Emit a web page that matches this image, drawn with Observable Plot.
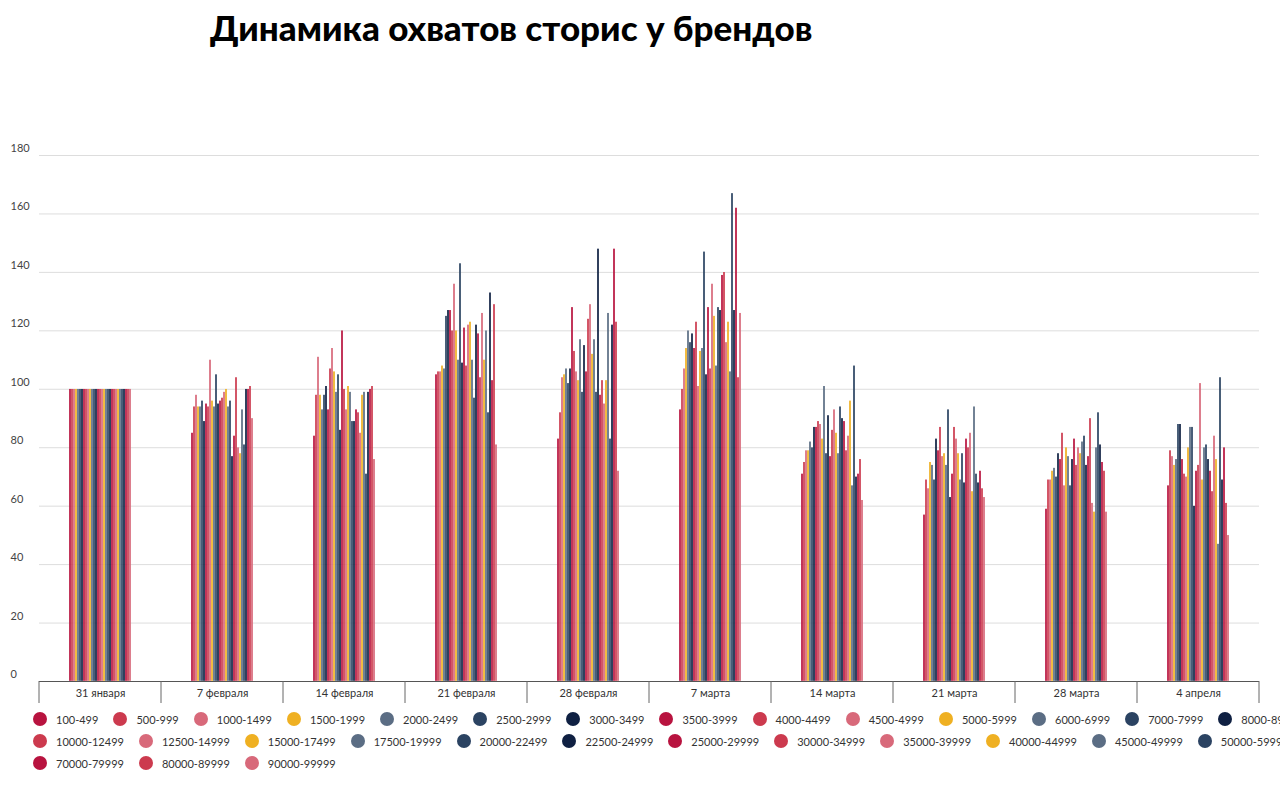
<!DOCTYPE html>
<html><head><meta charset="utf-8">
<script src="https://cdn.jsdelivr.net/npm/d3@7"></script>
<script src="https://cdn.jsdelivr.net/npm/@observablehq/plot@0.6"></script>
<style>
body{margin:0;background:#fff;font-family:Lato,"Open Sans",sans-serif;}
#title{height:55px;font:900 35px Lato,"Noto Sans",sans-serif;color:#000;padding-left:210px;line-height:55px;box-sizing:border-box;}
#legend{padding-left:33px;font-size:11px;color:#333;margin-top:-2px}
.row{display:flex;gap:15px;height:22px;align-items:center;white-space:nowrap}
.it{display:flex;align-items:center;gap:9px;white-space:nowrap}
.dot{width:14px;height:14px;border-radius:50%;flex:none}
</style></head><body>
<div id="title">Динамика охватов сторис у брендов</div>
<div id="chart"></div>
<div id="legend"></div>
<script>
const dates=["31 января","7 февраля","14 февраля","21 февраля","28 февраля","7 марта","14 марта","21 марта","28 марта","4 апреля"];
const series=["100-499","500-999","1000-1499","1500-1999","2000-2499","2500-2999","3000-3499","3500-3999","4000-4499","4500-4999","5000-5999","6000-6999","7000-7999","8000-8999","9000-9999","10000-12499","12500-14999","15000-17499","17500-19999","20000-22499","22500-24999","25000-29999","30000-34999","35000-39999","40000-44999","45000-49999","50000-59999","60000-69999","70000-79999","80000-89999","90000-99999"];
const palette=["#b8133f","#cc3a4e","#d8697a","#efb022","#5b6d84","#2b4362","#0f2042"];
const v31jan=Array(31).fill(100);
const v7feb=[85,94,98,94,94,96,89,95,94,110,96,94,105,95,96,97,99,100,94,96,77,84,104,80,78,93,81,100,100,101,90];
const v14feb=[84,98,111,98,93,98,101,93,107,114,106,99,105,86,120,100,93,101,99,89,89,93,92,85,98,99,71,99,100,101,76];
const v21feb=[105,106,106,108,107,125,127,127,120,136,120,110,143,109,121,108,122,123,110,97,122,119,104,126,110,120,92,133,103,129,81];
const v28feb=[83,92,104,105,107,102,107,128,113,106,103,117,99,115,106,124,129,112,117,99,148,98,103,95,103,126,83,122,148,123,72];
const v7mar=[93,100,107,114,120,116,119,114,123,101,113,114,147,105,128,107,136,125,108,128,127,139,140,116,123,106,167,127,162,104,126];
const v14mar=[71,75,79,79,82,80,87,87,89,88,83,101,78,91,77,86,93,85,78,94,90,89,79,84,96,67,108,70,71,76,62];
const v21mar=[57,69,66,75,74,69,83,79,87,77,78,74,93,63,71,87,83,78,69,78,68,83,80,85,65,94,71,68,72,66,63];
const v28mar=[59,69,69,72,73,70,78,76,85,67,80,77,67,76,83,74,80,78,82,84,74,77,90,61,58,80,92,81,75,72,58];
const v4apr=[67,79,77,74,76,88,88,76,71,70,80,87,87,60,72,74,102,69,80,81,76,72,65,84,76,47,104,69,80,61,50];
const values=[v31jan,v7feb,v14feb,v21feb,v28feb,v7mar,v14mar,v21mar,v28mar,v4apr];
const data=[];
dates.forEach((d,i)=>series.forEach((s,j)=>data.push({date:d,series:s,value:values[i][j]})));
const colors=series.map((s,i)=>palette[i%7]);
const chart=Plot.plot({
  width:1280,height:655,marginLeft:35,marginRight:18,marginTop:100,marginBottom:29,
  style:{fontFamily:"Lato, sans-serif",fontSize:"11px",color:"#333"},
  fx:{domain:dates,padding:0,label:null,axis:null},
  x:{domain:series,padding:0,paddingOuter:8.5,axis:null},
  y:{domain:[0,180],label:null},
  color:{domain:series,range:colors},
  marks:[
    Plot.gridY(d3.range(20,181,20),{stroke:"#ddd",strokeOpacity:1}),
    Plot.axisY(d3.range(0,181,20),{tickSize:0,textAnchor:"start",dx:-20,dy:-7,fill:"#444"}),
    Plot.axisFx({anchor:"bottom",tickSize:0,tickPadding:8,fontSize:11,fill:"#333",label:null}),
    Plot.barY(data,{fx:"date",x:"series",y:"value",fill:"series",inset:0.15}),
    Plot.ruleY([0],{stroke:"#555"})
  ]
});
document.getElementById("chart").append(chart);
const fx=chart.scale("fx");
const svg=d3.select(chart);
const y0=655-29;
const bounds=dates.map(d=>fx.apply(d)).concat([fx.apply(dates[dates.length-1])+fx.bandwidth]);
svg.append("g").selectAll("line").data(bounds).join("line")
  .attr("x1",d=>d).attr("x2",d=>d).attr("y1",y0).attr("y2",y0+22).attr("stroke","#666");
const leg=document.getElementById("legend");
[[0,15],[15,28],[28,31]].forEach(([a,b])=>{
  const row=document.createElement("div");row.className="row";
  for(let i=a;i<b;i++){row.innerHTML+=`<div class="it"><div class="dot" style="background:${colors[i]}"></div><span>${series[i]}</span></div>`;}
  leg.append(row);
});
</script></body></html>
